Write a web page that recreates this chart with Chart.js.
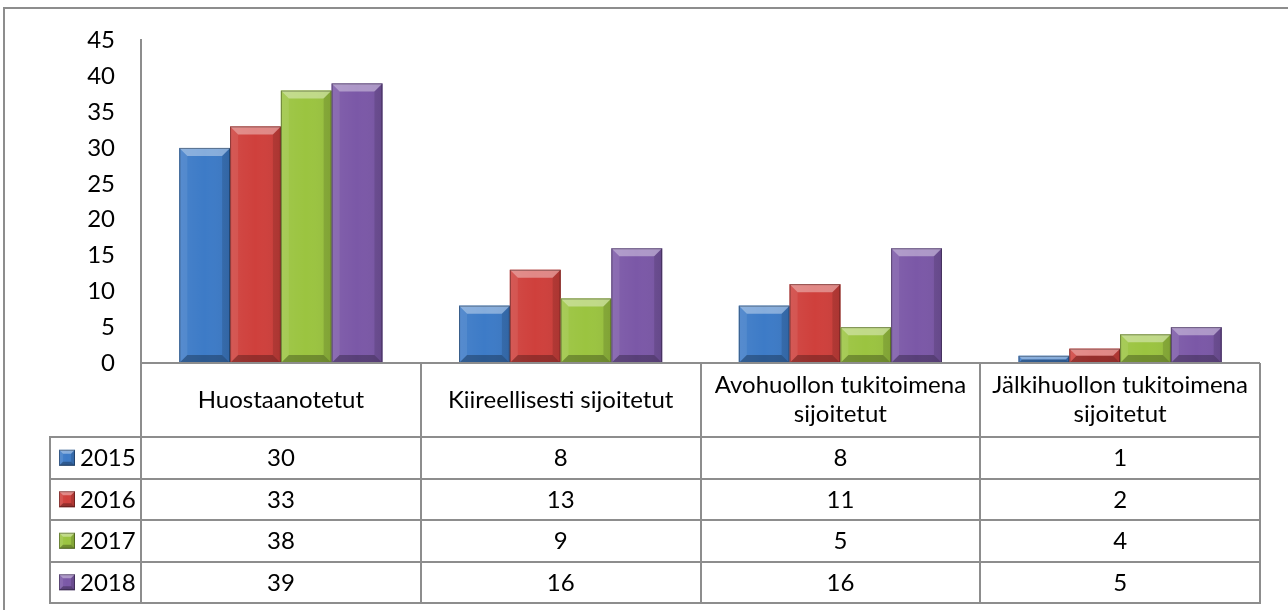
<!DOCTYPE html>
<html>
<head>
<meta charset="utf-8">
<script src="https://cdn.jsdelivr.net/npm/chart.js@4.4.1/dist/chart.umd.min.js"></script>
<style>
  html, body { margin: 0; padding: 0; background: #fff; }
  #wrap { position: relative; width: 1288px; height: 610px; }
</style>
</head>
<body>
<div id="wrap"><canvas id="chart" width="1288" height="610"></canvas></div>
<script>
// data
const categories = ['Huostaanotetut', 'Kiireellisesti sijoitetut', 'Avohuollon tukitoimena sijoitetut', 'Jälkihuollon tukitoimena sijoitetut'];
const years = ['2015', '2016', '2017', '2018'];
const values2015 = [30, 8, 8, 1];
const values2016 = [33, 13, 11, 2];
const values2017 = [38, 9, 5, 4];
const values2018 = [39, 16, 16, 5];
const yTicks = [0, 5, 10, 15, 20, 25, 30, 35, 40, 45];

const seriesValues = [values2015, values2016, values2017, values2018];
const seriesColors = ['#3d7bc7', '#cf403c', '#9bc440', '#7b58a7'];
const FONT = 'Lato, "Open Sans", sans-serif';
const FONT_SIZE = 24;
const LINE = '#8d8d8d';

function bevelRect(ctx, l, t, r, b, color, size) {
  const w = r - l, h = b - t;
  if (w <= 0 || h <= 0) return;
  const s = Math.min(size, w / 2, h / 2);
  ctx.save();
  ctx.fillStyle = color;
  ctx.fillRect(l, t, w, h);
  // soft sheen on the face
  const g = ctx.createLinearGradient(l, 0, r, 0);
  g.addColorStop(0, 'rgba(255,255,255,0.06)');
  g.addColorStop(0.5, 'rgba(255,255,255,0.0)');
  g.addColorStop(1, 'rgba(0,0,0,0.06)');
  ctx.fillStyle = g;
  ctx.fillRect(l, t, w, h);
  const poly = (pts, fill) => {
    ctx.beginPath();
    ctx.moveTo(pts[0][0], pts[0][1]);
    for (let i = 1; i < pts.length; i++) ctx.lineTo(pts[i][0], pts[i][1]);
    ctx.closePath();
    ctx.fillStyle = fill;
    ctx.fill();
  };
  poly([[l, t], [r, t], [r - s, t + s], [l + s, t + s]], 'rgba(255,255,255,0.38)');
  poly([[l, t], [l + s, t + s], [l + s, b - s], [l, b]], 'rgba(255,255,255,0.08)');
  poly([[r, t], [r - s, t + s], [r - s, b - s], [r, b]], 'rgba(0,0,0,0.12)');
  poly([[l, b], [l + s, b - s], [r - s, b - s], [r, b]], 'rgba(0,0,0,0.28)');
  ctx.strokeStyle = 'rgba(0,0,0,0.35)';
  ctx.lineWidth = 1;
  ctx.strokeRect(l + 0.5, t + 0.5, w - 1, h - 1);
  ctx.restore();
}

function wrapText(ctx, text, maxW) {
  const words = text.split(' ');
  const lines = [];
  let cur = '';
  words.forEach(wd => {
    const test = cur ? cur + ' ' + wd : wd;
    if (ctx.measureText(test).width > maxW && cur) {
      lines.push(cur);
      cur = wd;
    } else {
      cur = test;
    }
  });
  if (cur) lines.push(cur);
  return lines;
}

const framePlugin = {
  id: 'frame',
  beforeDraw(chart) {
    const ctx = chart.ctx;
    ctx.save();
    ctx.strokeStyle = LINE;
    ctx.lineWidth = 2;
    ctx.beginPath();
    ctx.moveTo(4, 610);
    ctx.lineTo(4, 8);
    ctx.lineTo(1288, 8);
    ctx.stroke();
    ctx.restore();
  }
};

const bevelPlugin = {
  id: 'bevel',
  afterDatasetsDraw(chart) {
    const ctx = chart.ctx;
    chart.data.datasets.forEach((ds, i) => {
      const meta = chart.getDatasetMeta(i);
      meta.data.forEach(bar => {
        const l = bar.x - bar.width / 2, r = bar.x + bar.width / 2;
        bevelRect(ctx, l, bar.y, r, bar.base, seriesColors[i], 8);
      });
    });
  }
};

const tablePlugin = {
  id: 'dataTable',
  afterDraw(chart) {
    const ctx = chart.ctx;
    const area = chart.chartArea;
    const n = categories.length;
    const colW = (area.right - area.left) / n;
    const headTop = area.bottom;
    const headBot = 437;
    const rowH = 41.5;
    const legendLeft = 50;
    const tableBot = headBot + rowH * years.length;

    ctx.save();
    ctx.strokeStyle = LINE;
    ctx.lineWidth = 2;
    ctx.beginPath();
    for (let i = 0; i <= n; i++) {
      const x = Math.round(area.left + i * colW);
      ctx.moveTo(x, headTop);
      ctx.lineTo(x, tableBot);
    }
    ctx.moveTo(legendLeft, headBot);
    ctx.lineTo(legendLeft, tableBot);
    ctx.moveTo(area.left, headTop);
    ctx.lineTo(area.right, headTop);
    for (let r = 0; r <= years.length; r++) {
      const y = Math.round(headBot + r * rowH);
      ctx.moveTo(legendLeft - 1, y);
      ctx.lineTo(area.right + 1, y);
    }
    ctx.stroke();

    ctx.fillStyle = '#000';
    ctx.font = FONT_SIZE + 'px ' + FONT;
    ctx.textAlign = 'center';
    ctx.textBaseline = 'middle';
    categories.forEach((cat, i) => {
      const cx = chart.scales.x.getPixelForValue(i);
      const lines = wrapText(ctx, cat, colW - 6);
      const lh = 29;
      const cy = (headTop + headBot) / 2;
      lines.forEach((ln, k) => {
        ctx.fillText(ln, cx, cy + (k - (lines.length - 1) / 2) * lh);
      });
    });
    years.forEach((yr, r) => {
      const cy = headBot + r * rowH + rowH / 2;
      seriesValues[r].forEach((v, i) => {
        ctx.textAlign = 'center';
        ctx.fillText(String(v), chart.scales.x.getPixelForValue(i), cy + 1);
      });
      bevelRect(ctx, 59, cy - 8, 75, cy + 8, seriesColors[r], 4);
      ctx.textAlign = 'left';
      ctx.fillText(yr, 80, cy + 1);
    });
    ctx.restore();
  }
};

const ctx = document.getElementById('chart').getContext('2d');
const chart = new Chart(ctx, {
  type: 'bar',
  data: {
    labels: categories,
    datasets: years.map((yr, i) => ({
      label: yr,
      data: seriesValues[i],
      backgroundColor: seriesColors[i],
      borderWidth: 0,
      categoryPercentage: 0.726,
      barPercentage: 1
    }))
  },
  options: {
    responsive: false,
    animation: false,
    layout: { padding: { top: 38, left: 0, right: 28, bottom: 247 } },
    plugins: {
      legend: { display: false },
      tooltip: { enabled: false }
    },
    scales: {
      x: { display: false },
      y: {
        min: 0,
        max: 45,
        afterFit(scale) { scale.width = 141; },
        afterBuildTicks(scale) { scale.ticks = yTicks.map(v => ({ value: v })); },
        grid: { display: false, drawTicks: false },
        border: { display: true, color: LINE, width: 2 },
        ticks: {
          padding: 26,
          color: '#000',
          font: { family: FONT, size: FONT_SIZE }
        }
      }
    }
  },
  plugins: [framePlugin, bevelPlugin, tablePlugin]
});
</script>
</body>
</html>
